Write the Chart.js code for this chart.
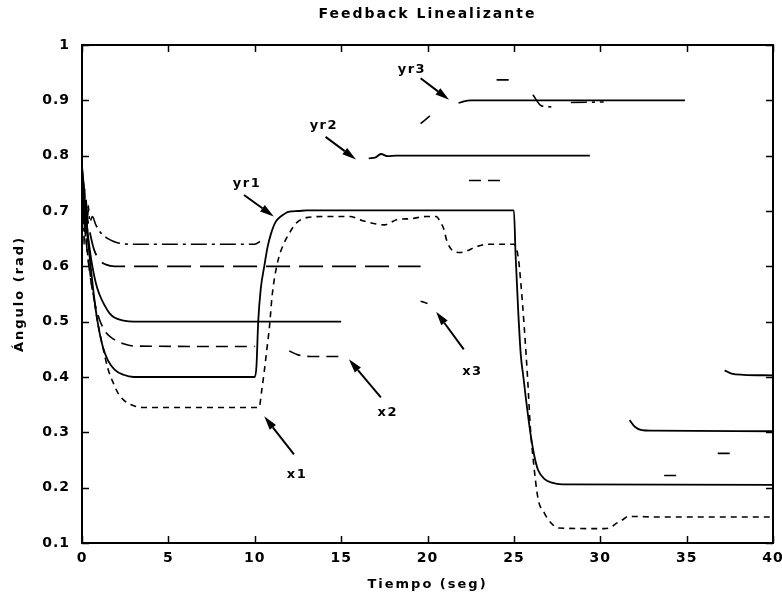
<!DOCTYPE html>
<html>
<head>
<meta charset="utf-8">
<script src="https://cdn.jsdelivr.net/npm/chart.js@4.4.1/dist/chart.umd.min.js"></script>
<style>
  html, body { margin: 0; padding: 0; background: #fff; }
  #wrap { width: 782px; height: 595px; }
</style>
</head>
<body>
<div id="wrap"><canvas id="c" width="782" height="595"></canvas></div>
<script>
// ---- text ----
const chartTitle = 'Feedback Linealizante';
const xTitle = 'Tiempo (seg)';
const yTitle = 'Ángulo (rad)';

// ---- axis ticks ----
const xTicks = [0, 5, 10, 15, 20, 25, 30, 35, 40];
const xTickLabels = ['0', '5', '10', '15', '20', '25', '30', '35', '40'];
const yTicks = [0.1, 0.2, 0.3, 0.4, 0.5, 0.6, 0.7, 0.8, 0.9, 1];
const yTickLabels = ['0.1', '0.2', '0.3', '0.4', '0.5', '0.6', '0.7', '0.8', '0.9', '1'];

// ---- reference trajectories (time in s, angle in rad; null = break in the trace) ----
const yr1T = [0, 0.1, 0.2, 0.3, 0.4, 0.5, 0.7, 0.9, 1.2, 1.5, 1.9, 2.4, 3.0, 10.0, 10.1, 10.2, 10.35, 10.55, 10.75, 10.95, 11.2, 11.5, 12.0, 12.5, 13.0, 25.0, 25.1, 25.25, 25.4, 25.55, 25.7, 25.85, 26.0, 26.2, 26.4, 26.8, 27.2, 27.8, 40];
const yr1V = [0.77, 0.73, 0.69, 0.66, 0.63, 0.60, 0.545, 0.50, 0.455, 0.43, 0.413, 0.404, 0.40, 0.40, 0.42, 0.50, 0.56, 0.60, 0.636, 0.66, 0.68, 0.69, 0.699, 0.70, 0.701, 0.701, 0.62, 0.52, 0.44, 0.40, 0.36, 0.323, 0.29, 0.255, 0.232, 0.215, 0.209, 0.206, 0.205];

const yr2T = [0, 0.15, 0.3, 0.45, 0.6, 0.8, 1.0, 1.3, 1.6, 1.9, 2.4, 3.0, 15.0, 15.2, 16.6, 17.0, 17.3, 17.7, 18.2, 29.4, 29.6, 31.7, 32.0, 32.4, 33.0, 40];
const yr2V = [0.78, 0.72, 0.67, 0.63, 0.60, 0.57, 0.55, 0.53, 0.515, 0.507, 0.502, 0.50, 0.50, null, 0.795, 0.797, 0.803, 0.799, 0.80, 0.80, null, 0.322, 0.31, 0.304, 0.303, 0.302];

const yr3T = [0, 0.15, 0.3, 0.5, 0.7, 1.0, 1.4, 1.9, 19.6, 19.8, 21.8, 22.1, 22.5, 34.9, 35.0, 37.2, 37.6, 38.3, 40];
const yr3V = [0.78, 0.73, 0.69, 0.655, 0.63, 0.612, 0.603, 0.60, 0.60, null, 0.895, 0.898, 0.90, 0.90, null, 0.412, 0.406, 0.404, 0.403];

// ---- joint angles ----
const x1T = [0, 0.15, 0.3, 0.5, 0.7, 0.9, 1.2, 1.5, 1.8, 2.1, 2.5, 3.0, 3.5, 10.25, 10.4, 10.55, 10.7, 10.85, 11.0, 11.15, 11.4, 11.7, 12.0, 12.4, 13.0, 14.0, 15.5, 16.2, 16.8, 17.5, 18.3, 19.0, 19.9, 20.5, 20.75, 20.95, 21.1, 21.4, 21.9, 22.3, 22.7, 23.5, 25.0, 25.25, 25.4, 25.6, 25.8, 25.95, 26.1, 26.4, 26.75, 27.1, 27.6, 30.2, 30.6, 30.9, 31.3, 31.6, 32.2, 33.0, 40];
const x1V = [0.73, 0.68, 0.63, 0.58, 0.54, 0.50, 0.455, 0.415, 0.39, 0.37, 0.356, 0.348, 0.345, 0.345, 0.375, 0.41, 0.45, 0.49, 0.545, 0.58, 0.617, 0.642, 0.66, 0.678, 0.688, 0.69, 0.69, 0.683, 0.678, 0.675, 0.685, 0.686, 0.69, 0.69, 0.68, 0.667, 0.648, 0.63, 0.625, 0.628, 0.634, 0.64, 0.64, 0.617, 0.571, 0.49, 0.395, 0.31, 0.257, 0.18, 0.155, 0.138, 0.127, 0.126, 0.128, 0.135, 0.142, 0.148, 0.148, 0.147, 0.147];

const x2T = [0, 0.2, 0.4, 0.7, 1.0, 1.4, 1.85, 2.4, 3.0, 10.0, 10.1, 12.0, 12.5, 13.5, 15.0, 15.1, 19.6, 20.3, 20.4, 22.4, 24.6, 24.7, 33.7, 34.8, 34.9, 36.8, 37.9];
const x2V = [0.75, 0.66, 0.60, 0.54, 0.505, 0.48, 0.468, 0.46, 0.456, 0.455, null, 0.447, 0.44, 0.437, 0.437, null, 0.858, 0.876, null, 0.755, 0.755, null, 0.222, 0.222, null, 0.262, 0.262];

const x3T = [0, 0.04, 0.08, 0.12, 0.16, 0.2, 0.25, 0.3, 0.36, 0.45, 0.6, 0.8, 1.1, 1.5, 2.0, 2.8, 10.0, 10.3, 10.4, 19.6, 20.0, 20.1, 24.0, 24.7, 24.8, 26.1, 26.6, 27.4, 27.5, 28.3, 30.2];
const x3V = [0.79, 0.67, 0.76, 0.64, 0.74, 0.65, 0.72, 0.66, 0.71, 0.68, 0.69, 0.675, 0.66, 0.65, 0.643, 0.64, 0.64, 0.645, null, 0.537, 0.533, null, 0.937, 0.937, null, 0.91, 0.89, 0.888, null, 0.896, 0.897];

// ---- callouts: label, label anchor, arrow tail, arrow tip (data units) ----
const calloutText = ['yr1', 'yr2', 'yr3', 'x1', 'x2', 'x3'];
const calloutLabelAt = [[9.55, 0.749], [14.0, 0.854], [19.1, 0.955], [12.45, 0.224], [17.7, 0.336], [22.6, 0.41]];
const calloutTail = [[9.38, 0.729], [14.1, 0.834], [19.6, 0.94], [12.27, 0.26], [17.3, 0.363], [22.1, 0.45]];
const calloutTip = [[11.1, 0.69], [15.86, 0.793], [21.25, 0.901], [10.55, 0.329], [15.45, 0.432], [20.5, 0.518]];

const FONT = '"DejaVu Sans", "Liberation Sans", Arial, sans-serif';

function pts(t, v) { return t.map((x, i) => ({ x: x, y: v[i] })); }

function drawArrow(c, x0, y0, x1, y1) {
  const ang = Math.atan2(y1 - y0, x1 - x0);
  const L = 14, W = 4;
  const bx = x1 - L * Math.cos(ang), by = y1 - L * Math.sin(ang);
  c.beginPath();
  c.moveTo(x0, y0);
  c.lineTo(bx, by);
  c.lineWidth = 2;
  c.stroke();
  c.beginPath();
  c.moveTo(x1, y1);
  c.lineTo(bx + W * Math.sin(ang), by - W * Math.cos(ang));
  c.lineTo(bx - W * Math.sin(ang), by + W * Math.cos(ang));
  c.closePath();
  c.fill();
}

// Boxed axes with inward ticks on all four sides, titles and callouts
const boxedAxes = {
  id: 'boxedAxes',
  beforeDraw(chart) {
    const c = chart.ctx;
    c.save();
    c.fillStyle = '#fff';
    c.fillRect(0, 0, chart.width, chart.height);
    c.restore();
    c.letterSpacing = '1px';
  },
  afterDraw(chart) {
    const c = chart.ctx, a = chart.chartArea;
    const xs = chart.scales.x, ys = chart.scales.y;
    c.save();
    c.strokeStyle = '#000';
    c.fillStyle = '#000';
    c.lineWidth = 2;
    c.strokeRect(a.left, a.top, a.right - a.left, a.bottom - a.top);
    c.lineWidth = 1.5;
    c.beginPath();
    const tl = 7;
    xTicks.forEach(v => {
      const p = Math.round(xs.getPixelForValue(v)) + 0.5;
      c.moveTo(p, a.bottom); c.lineTo(p, a.bottom - tl);
      c.moveTo(p, a.top); c.lineTo(p, a.top + tl);
    });
    yTicks.forEach(v => {
      const p = Math.round(ys.getPixelForValue(v)) + 0.5;
      c.moveTo(a.left, p); c.lineTo(a.left + tl, p);
      c.moveTo(a.right, p); c.lineTo(a.right - tl, p);
    });
    c.stroke();

    c.letterSpacing = '2px';
    c.textAlign = 'center';
    c.textBaseline = 'middle';
    c.font = 'bold 14px ' + FONT;
    c.fillText(chartTitle, (a.left + a.right) / 2, 14);
    c.font = 'bold 13px ' + FONT;
    c.fillText(xTitle, (a.left + a.right) / 2, 585);
    c.save();
    c.translate(20, (a.top + a.bottom) / 2);
    c.rotate(-Math.PI / 2);
    c.fillText(yTitle, 0, 0);
    c.restore();

    c.letterSpacing = '1.5px';
    c.font = 'bold 13px ' + FONT;
    calloutText.forEach((txt, i) => {
      const lx = xs.getPixelForValue(calloutLabelAt[i][0]);
      const ly = ys.getPixelForValue(calloutLabelAt[i][1]);
      c.fillText(txt, lx, ly);
      drawArrow(c,
        xs.getPixelForValue(calloutTail[i][0]), ys.getPixelForValue(calloutTail[i][1]),
        xs.getPixelForValue(calloutTip[i][0]), ys.getPixelForValue(calloutTip[i][1]));
    });
    c.restore();
  }
};

const common = { borderColor: '#000', pointRadius: 0, fill: false, spanGaps: false, cubicInterpolationMode: 'monotone' };

new Chart(document.getElementById('c'), {
  type: 'line',
  data: {
    datasets: [
      Object.assign({ label: 'yr1', data: pts(yr1T, yr1V), borderWidth: 1.8 }, common),
      Object.assign({ label: 'yr2', data: pts(yr2T, yr2V), borderWidth: 1.8 }, common),
      Object.assign({ label: 'yr3', data: pts(yr3T, yr3V), borderWidth: 1.8,
        segment: { borderDash: ctx => (ctx.p1.parsed.x <= 19.7 ? [24, 9] : undefined) } }, common),
      Object.assign({ label: 'x1', data: pts(x1T, x1V), borderWidth: 1.6, borderDash: [6, 5] }, common),
      Object.assign({ label: 'x2', data: pts(x2T, x2V), borderWidth: 1.6, borderDash: [12, 7] }, common),
      Object.assign({ label: 'x3', data: pts(x3T, x3V), borderWidth: 1.6, borderDash: [16, 5, 3, 5] }, common)
    ]
  },
  options: {
    responsive: false,
    animation: false,
    devicePixelRatio: 1,
    layout: { padding: { top: 45, right: 9, bottom: 0, left: 0 } },
    plugins: { legend: { display: false }, tooltip: { enabled: false }, title: { display: false } },
    scales: {
      x: {
        type: 'linear', min: 0, max: 40,
        afterBuildTicks: s => { s.ticks = xTicks.map(v => ({ value: v })); },
        afterFit: s => { s.height = 52; s.paddingLeft = 0; s.paddingRight = 0; },
        grid: { display: false, drawTicks: false },
        border: { display: false },
        ticks: {
          color: '#000', padding: 7, maxRotation: 0, autoSkip: false,
          font: { family: FONT, size: 14, weight: 'bold' },
          callback: (v, i) => xTickLabels[i]
        }
      },
      y: {
        type: 'linear', min: 0.1, max: 1,
        afterBuildTicks: s => { s.ticks = yTicks.map(v => ({ value: v })); },
        afterFit: s => { s.width = 82; s.paddingTop = 0; s.paddingBottom = 0; },
        grid: { display: false, drawTicks: false },
        border: { display: false },
        ticks: {
          color: '#000', padding: 12, autoSkip: false,
          font: { family: FONT, size: 14, weight: 'bold' },
          callback: (v, i) => yTickLabels[i]
        }
      }
    }
  },
  plugins: [boxedAxes]
});
</script>
</body>
</html>
